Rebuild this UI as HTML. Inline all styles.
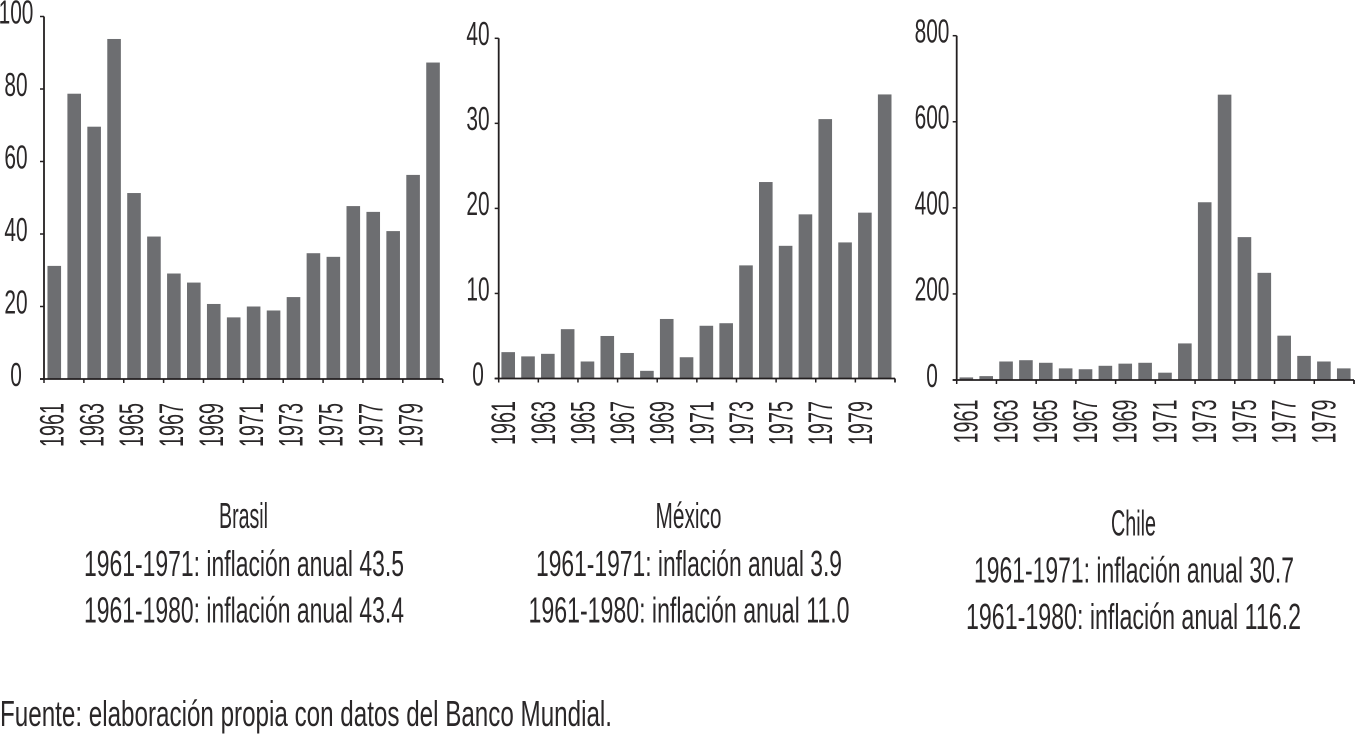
<!DOCTYPE html>
<html lang="es">
<head>
<meta charset="utf-8">
<title>Inflación anual: Brasil, México y Chile</title>
<style>
html,body{margin:0;padding:0;background:#fff;}
body{width:1355px;height:734px;overflow:hidden;}
svg{display:block;}
text{font-family:"Liberation Sans",sans-serif;fill:#2a2728;}
</style>
</head>
<body>
<svg id="figure" xmlns="http://www.w3.org/2000/svg" width="1355" height="734" viewBox="0 0 1355 734">
  <text x="219" y="528" font-size="36" textLength="49" lengthAdjust="spacingAndGlyphs">Brasil</text>
  <text x="84" y="576" font-size="36" textLength="320" lengthAdjust="spacingAndGlyphs">1961-1971: inflación anual 43.5</text>
  <text x="84" y="622.5" font-size="36" textLength="320" lengthAdjust="spacingAndGlyphs">1961-1980: inflación anual 43.4</text>

  <text x="655.5" y="528" font-size="36" textLength="66" lengthAdjust="spacingAndGlyphs">México</text>
  <text x="536" y="576" font-size="36" textLength="306" lengthAdjust="spacingAndGlyphs">1961-1971: inflación anual 3.9</text>
  <text x="528.5" y="622.5" font-size="36" textLength="321" lengthAdjust="spacingAndGlyphs">1961-1980: inflación anual 11.0</text>

  <text x="1111" y="535.5" font-size="36" textLength="45" lengthAdjust="spacingAndGlyphs">Chile</text>
  <text x="974" y="582.5" font-size="36" textLength="320" lengthAdjust="spacingAndGlyphs">1961-1971: inflación anual 30.7</text>
  <text x="966" y="629" font-size="36" textLength="335" lengthAdjust="spacingAndGlyphs">1961-1980: inflación anual 116.2</text>

  <text x="0" y="726" font-size="36" textLength="612" lengthAdjust="spacingAndGlyphs">Fuente: elaboración propia con datos del Banco Mundial.</text>
</svg>
<script>
const years = [1961,1962,1963,1964,1965,1966,1967,1968,1969,1970,1971,1972,1973,1974,1975,1976,1977,1978,1979,1980];
const brasilValues = [31.2,78.7,69.6,93.8,51.3,39.3,29.1,26.6,20.7,17.0,20.0,18.9,22.6,34.7,33.7,47.7,46.1,40.8,56.3,87.3];
const mexicoValues = [3.1,2.6,2.9,5.8,2.0,5.0,3.0,0.9,7.0,2.5,6.2,6.5,13.3,23.1,15.6,19.3,30.5,16.0,19.5,33.4];
const chileValues = [6,9,43,46,40,27,25,33,38,40,17,85,413,663,332,249,103,56,43,27];
const brasilTicks = [0,20,40,60,80,100];
const mexicoTicks = [0,10,20,30,40];
const chileTicks = [0,200,400,600,800];

const NS = 'http://www.w3.org/2000/svg';
const figure = document.getElementById('figure');

function svgEl(tag, attrs, parent) {
  const el = document.createElementNS(NS, tag);
  for (const k in attrs) el.setAttribute(k, attrs[k]);
  parent.appendChild(el);
  return el;
}

function drawChart(id, values, ticks, g) {
  const group = svgEl('g', {}, figure);
  
  

  const yMax = ticks[ticks.length - 1];
  const yScale = v => g.y0 - (v / yMax) * (g.y0 - g.yTop);
  const band = (g.xRight - g.xLeft) / values.length;
  const xScale = i => g.xLeft + band * i;

  values.forEach((v, i) => {
    const bar = svgEl('rect', {
      x: xScale(i) + band / 2 - 6.8 + g.barShift,
      y: yScale(v),
      width: 13.6,
      height: g.y0 - yScale(v),
      fill: '#6d6e71'
    }, group);
    
    
  });

  const yAxis = svgEl('line', {x1: g.xLeft, x2: g.xLeft, y1: g.yTop, y2: g.y0, stroke: '#231f20', 'stroke-width': 1.8}, group);
  
  

  const xAxis = svgEl('line', {x1: g.xLeft - 4, x2: g.xRight, y1: g.y0, y2: g.y0, stroke: '#231f20', 'stroke-width': 1.8}, group);
  
  

  ticks.forEach(t => {
    const y = yScale(t);
    const tick = svgEl('line', {x1: g.xLeft - 4, x2: g.xLeft, y1: y, y2: y, stroke: '#231f20', 'stroke-width': 1.5}, group);
    
    

    const s = String(t);
    const label = svgEl('text', {
      x: g.labelCx - s.length * 5.8,
      y: y + 6.8,
      'font-size': 33,
      textLength: s.length * 11.6,
      lengthAdjust: 'spacingAndGlyphs'
    }, group);
    label.textContent = s;
    
    
  });

  for (let i = 0; i <= values.length; i += 2) {
    const x = xScale(i);
    const tick = svgEl('line', {x1: x, x2: x, y1: g.y0, y2: g.y0 + 4, stroke: '#231f20', 'stroke-width': 1.5}, group);
    
    
  }
  const lastTick = svgEl('line', {x1: g.xRight, x2: g.xRight, y1: g.y0, y2: g.y0 + 4, stroke: '#231f20', 'stroke-width': 1.5}, group);
  
  

  years.forEach((yr, i) => {
    if (i % 2 !== 0) return;
    const lx = xScale(i) + g.yearDx;
    const label = svgEl('text', {
      x: lx,
      y: g.yearY,
      'font-size': 34,
      transform: 'rotate(-90 ' + lx + ' ' + g.yearY + ')',
      textLength: 44,
      lengthAdjust: 'spacingAndGlyphs'
    }, group);
    label.textContent = String(yr);
    
    
  });
}

drawChart('brasil', brasilValues, brasilTicks, {xLeft: 44, xRight: 442.7, yTop: 16.5, y0: 379, labelCx: 16, yearDx: 19.5, yearY: 447, barShift: 0.3});
drawChart('mexico', mexicoValues, mexicoTicks, {xLeft: 498.7, xRight: 895, yTop: 38.3, y0: 378.5, labelCx: 478, yearDx: 16.5, yearY: 445, barShift: -0.4});
drawChart('chile', chileValues, chileTicks, {xLeft: 956.7, xRight: 1354, yTop: 35.7, y0: 380, labelCx: 932, yearDx: 21, yearY: 443.5, barShift: -0.3});
</script>
</body>
</html>
